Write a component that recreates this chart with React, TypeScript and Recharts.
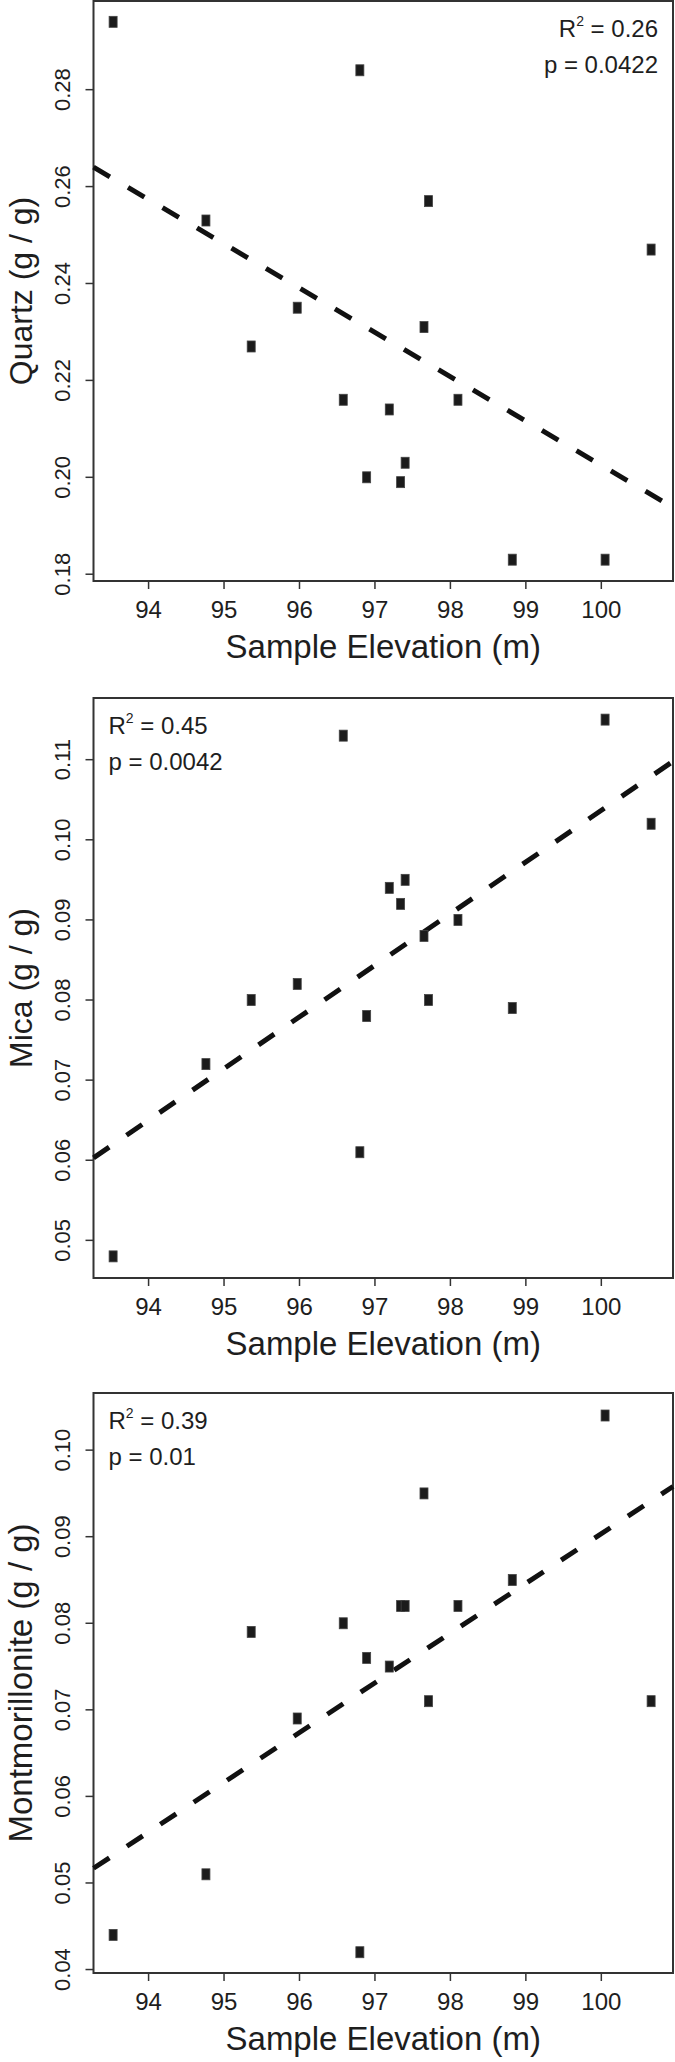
import { ScatterChart, Scatter, XAxis, YAxis, ReferenceArea, ReferenceLine, Label } from 'recharts'

// elevation of the 16 samples, shared by the three panels
const elevation = [93.53, 94.76, 95.36, 95.97, 96.58, 96.8, 96.89, 97.19, 97.34, 97.4, 97.65, 97.71, 98.1, 98.82, 100.05, 100.66]
const quartz = [0.294, 0.253, 0.227, 0.235, 0.216, 0.284, 0.2, 0.214, 0.199, 0.203, 0.231, 0.257, 0.216, 0.183, 0.183, 0.247]
const mica = [0.048, 0.072, 0.08, 0.082, 0.113, 0.061, 0.078, 0.094, 0.092, 0.095, 0.088, 0.08, 0.09, 0.079, 0.115, 0.102]
const montmorillonite = [0.044, 0.051, 0.079, 0.069, 0.08, 0.042, 0.076, 0.075, 0.082, 0.082, 0.095, 0.071, 0.082, 0.085, 0.104, 0.071]

const elevationTicks = [94, 95, 96, 97, 98, 99, 100]
const quartzTicks = [0.18, 0.2, 0.22, 0.24, 0.26, 0.28]
const micaTicks = [0.05, 0.06, 0.07, 0.08, 0.09, 0.1, 0.11]
const montTicks = [0.04, 0.05, 0.06, 0.07, 0.08, 0.09, 0.1]

const elevationDomain = [93.27, 100.95]
const quartzDomain = [0.1786, 0.2983]
const micaDomain = [0.0453, 0.1177]
const montDomain = [0.0396, 0.1066]

// fitted line, value at the left and right edge of the plot
const trendEnds = [93.27, 100.95]
const quartzTrend = [0.264, 0.1938]
const micaTrend = [0.0603, 0.1098]
const montTrend = [0.0517, 0.0958]

const quartzStats = ['0.26', '0.0422']
const micaStats = ['0.45', '0.0042']
const montStats = ['0.39', '0.01']

const FONT = "'Liberation Sans', Arial, Helvetica, sans-serif"
const INK = '#1e1e1e'
const PLOT_TOP = 1
const PLOT_H = 580
const PLOT_LEFT = 93.5
const PLOT_RIGHT = 673

function Square(props: any) {
  const { cx, cy } = props
  return <rect x={cx - 4} y={cy - 5.5} width={8} height={11} fill="#1b1b1b" stroke="#444" strokeWidth={0.8} />
}

function XTick(props: any) {
  const { x, payload } = props
  return (
    <text x={x} y={PLOT_TOP + PLOT_H + 37} textAnchor="middle" fontSize={24} fontFamily={FONT} fill={INK}>
      {payload.value}
    </text>
  )
}

function YTick(props: any) {
  const { y, payload } = props
  return (
    <text x={70} y={y} transform={`rotate(-90 70 ${y})`} textAnchor="middle" fontSize={22} fontFamily={FONT} fill={INK}>
      {Number(payload.value).toFixed(2)}
    </text>
  )
}

interface PanelProps {
  top: number
  height: number
  title: string
  titleSize: number
  values: number[]
  ticks: number[]
  domain: number[]
  trend: number[]
  stats: string[]
  statsRight: boolean
}

function Panel({ top, height, title, titleSize, values, ticks, domain, trend, stats, statsRight }: PanelProps) {
  const data = elevation.map((x, i) => ({ x, y: values[i] }))
  const sx = statsRight ? 658 : 108.5
  const anchor = statsRight ? 'end' : 'start'
  const titleX = 32
  return (
    <div style={{ position: 'absolute', left: 0, top }}>
      <ScatterChart width={675} height={height} margin={{ top: PLOT_TOP, right: 675 - PLOT_RIGHT, bottom: 0, left: 0 }}>
        <XAxis
          type="number"
          dataKey="x"
          domain={elevationDomain}
          ticks={elevationTicks}
          allowDataOverflow
          interval={0}
          height={height - PLOT_TOP - PLOT_H}
          axisLine={false}
          tickSize={8}
          tickLine={{ stroke: '#333', strokeWidth: 1.5 }}
          tick={XTick}
        >
          <Label
            content={(p: any) => (
              <text
                x={p.viewBox.x + p.viewBox.width / 2}
                y={p.viewBox.y + 77}
                textAnchor="middle"
                fontSize={33}
                fontFamily={FONT}
                fill={INK}
              >
                Sample Elevation (m)
              </text>
            )}
          />
        </XAxis>
        <YAxis
          type="number"
          dataKey="y"
          domain={domain}
          ticks={ticks}
          allowDataOverflow
          interval={0}
          width={PLOT_LEFT}
          axisLine={false}
          tickSize={8}
          tickLine={{ stroke: '#333', strokeWidth: 1.5 }}
          tick={YTick}
        >
          <Label
            content={(p: any) => {
              const cy = p.viewBox.y + p.viewBox.height / 2
              return (
                <text x={titleX} y={cy} transform={`rotate(-90 ${titleX} ${cy})`} textAnchor="middle" fontSize={titleSize} fontFamily={FONT} fill={INK}>
                  {title}
                </text>
              )
            }}
          />
        </YAxis>
        <ReferenceArea x1={elevationDomain[0]} x2={elevationDomain[1]} y1={domain[0]} y2={domain[1]} fill="none" stroke="#333" strokeWidth={2} fillOpacity={0} />
        <ReferenceLine
          segment={[{ x: trendEnds[0], y: trend[0] }, { x: trendEnds[1], y: trend[1] }]}
          stroke="#111"
          strokeWidth={5}
          strokeDasharray="19 21"
        />
        <Scatter data={data} shape={Square} isAnimationActive={false} />
        <g fontFamily={FONT} fill={INK}>
          <text x={sx} y={PLOT_TOP + 36} textAnchor={anchor} fontSize={24}>
            R<tspan fontSize={14} dy={-11}>2</tspan>
            <tspan dy={11}> = {stats[0]}</tspan>
          </text>
          <text x={sx} y={PLOT_TOP + 72} textAnchor={anchor} fontSize={24}>
            p = {stats[1]}
          </text>
        </g>
      </ScatterChart>
    </div>
  )
}

export default function App() {
  return (
    <div style={{ position: 'absolute', left: 0, top: 0, width: 675, height: 2062, background: '#fff' }}>
      <Panel top={0} height={697} title="Quartz (g / g)" titleSize={32} values={quartz} ticks={quartzTicks} domain={quartzDomain} trend={quartzTrend} stats={quartzStats} statsRight />
      <Panel top={697} height={697} title="Mica (g / g)" titleSize={32} values={mica} ticks={micaTicks} domain={micaDomain} trend={micaTrend} stats={micaStats} statsRight={false} />
      <Panel top={1392} height={670} title="Montmorillonite (g / g)" titleSize={33} values={montmorillonite} ticks={montTicks} domain={montDomain} trend={montTrend} stats={montStats} statsRight={false} />
    </div>
  )
}
